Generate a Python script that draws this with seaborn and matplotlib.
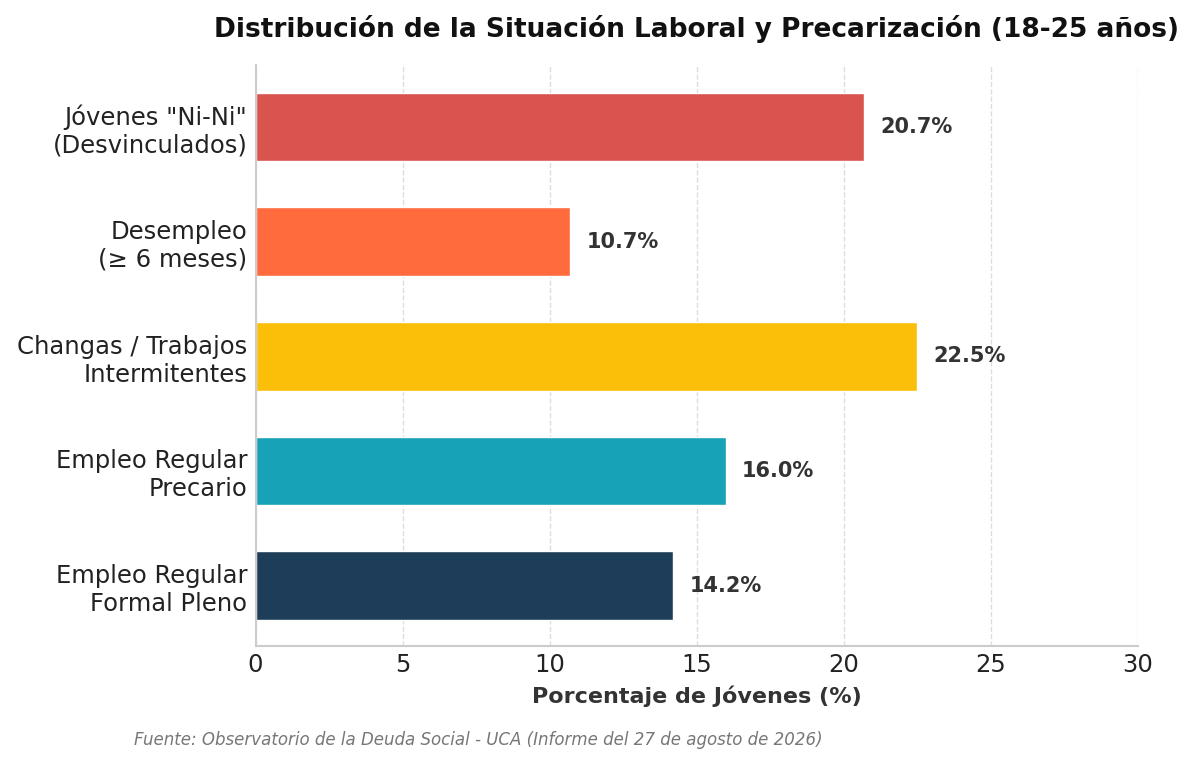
import matplotlib
matplotlib.use("Agg")
import matplotlib.pyplot as plt
import seaborn as sns
import pandas as pd

categorias = [
    'Jóvenes "Ni-Ni"\n(Desvinculados)',
    "Desempleo\n(≥ 6 meses)",
    "Changas / Trabajos\nIntermitentes",
    "Empleo Regular\nPrecario",
    "Empleo Regular\nFormal Pleno",
]
porcentajes = [20.7, 10.7, 22.5, 16.0, 14.2]
colores = ["#d9534f", "#ff6b3d", "#fbbf09", "#17a2b8", "#1e3d59"]

df = pd.DataFrame({"categoria": categorias, "pct": porcentajes})

sns.set_theme(style="white")
plt.rcParams["font.family"] = ["DejaVu Sans"]

fig, ax = plt.subplots(figsize=(12, 7.65), dpi=100)
fig.subplots_adjust(left=0.213, right=0.948, top=0.915, bottom=0.155)

sns.barplot(data=df, x="pct", y="categoria", hue="categoria", palette=colores,
            width=0.6, legend=False, ax=ax, saturation=1)

for i, v in enumerate(porcentajes):
    ax.text(v + 0.55, i, f"{v:.1f}%", va="center", ha="left",
            fontsize=15, fontweight="bold", color="#333333")

ax.set_xlim(0, 30)
ax.set_ylim(4.53, -0.54)
ax.set_xticks([0, 5, 10, 15, 20, 25, 30])
ax.tick_params(axis="x", labelsize=17.5, colors="#222222", length=0, pad=5)
ax.tick_params(axis="y", labelsize=17.5, colors="#222222", length=0, pad=6)
ax.set_ylabel("")
ax.set_xlabel("Porcentaje de Jóvenes (%)", fontsize=16, fontweight="bold",
              color="#333333", labelpad=6)
ax.set_title("Distribución de la Situación Laboral y Precarización (18-25 años)",
             fontsize=19, fontweight="bold", color="#111111", pad=20)

ax.grid(axis="x", linestyle="--", color="#dddddd", linewidth=1)
ax.set_axisbelow(True)
sns.despine(ax=ax, top=True, right=True)
for s in ["left", "bottom"]:
    ax.spines[s].set_color("#cccccc")
    ax.spines[s].set_linewidth(1.5)

fig.text(0.112, 0.026, "Fuente: Observatorio de la Deuda Social - UCA (Informe del 27 de agosto de 2026)",
         fontsize=12, style="italic", color="#777777")

fig.savefig("out.png", dpi=100)
